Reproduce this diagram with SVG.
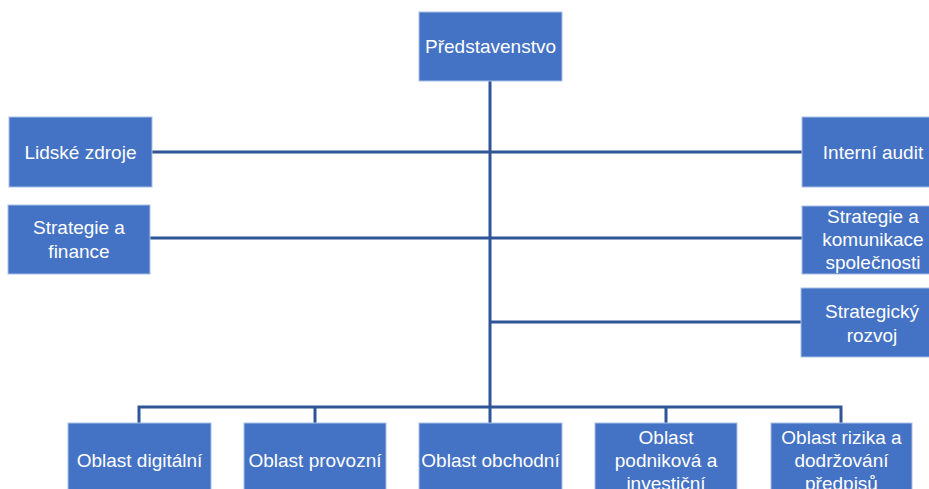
<svg xmlns="http://www.w3.org/2000/svg" width="929" height="489" viewBox="0 0 929 489">
<style>
.box{fill:#4472C4;stroke:#A9BFE6;stroke-width:1}
.t{font-family:"Liberation Sans",Arial,sans-serif;font-size:19px;fill:#FFFFFF;text-anchor:middle;dominant-baseline:central}
.c{stroke:#2F5597;stroke-width:3;fill:none}
</style>
<rect width="929" height="489" fill="#FFFFFF"/>
<g id="connectors">
<line class="c" x1="490" y1="81" x2="490" y2="407"/>
<line class="c" x1="152" y1="152" x2="802" y2="152"/>
<line class="c" x1="150" y1="238" x2="802" y2="238"/>
<line class="c" x1="490" y1="322" x2="801" y2="322"/>
<polyline class="c" points="139,423 139,407 841,407 841,423"/>
<line class="c" x1="315" y1="407" x2="315" y2="423"/>
<line class="c" x1="490" y1="407" x2="490" y2="423"/>
<line class="c" x1="666" y1="407" x2="666" y2="423"/>
</g>
<g id="n-predstavenstvo"><rect class="box" x="419" y="12" width="143" height="69"/><text class="t" x="490.5" y="46.5">Představenstvo</text></g>
<g id="n-lidske"><rect class="box" x="9" y="117" width="143" height="70"/><text class="t" x="80.5" y="152">Lidské zdroje</text></g>
<g id="n-strategie-finance"><rect class="box" x="8" y="205" width="142" height="69"/><text class="t" x="79" y="227">Strategie a</text><text class="t" x="79" y="251">finance</text></g>
<g id="n-audit"><rect class="box" x="802" y="117" width="142" height="70"/><text class="t" x="873" y="152">Interní audit</text></g>
<g id="n-strategie-komunikace"><rect class="box" x="802" y="206" width="142" height="68"/><text class="t" x="873" y="216">Strategie a</text><text class="t" x="873" y="239">komunikace</text><text class="t" x="873" y="262">společnosti</text></g>
<g id="n-rozvoj"><rect class="box" x="801" y="288" width="143" height="69"/><text class="t" x="872" y="311">Strategický</text><text class="t" x="872" y="335">rozvoj</text></g>
<g id="n-digitalni"><rect class="box" x="68" y="423" width="143" height="74"/><text class="t" x="139.5" y="460">Oblast digitální</text></g>
<g id="n-provozni"><rect class="box" x="244" y="423" width="142" height="74"/><text class="t" x="315" y="460">Oblast provozní</text></g>
<g id="n-obchodni"><rect class="box" x="419" y="423" width="143" height="74"/><text class="t" x="490.5" y="460">Oblast obchodní</text></g>
<g id="n-podnikova"><rect class="box" x="595" y="423" width="142" height="74"/><text class="t" x="666" y="437">Oblast</text><text class="t" x="666" y="460">podniková a</text><text class="t" x="666" y="483">investiční</text></g>
<g id="n-rizika"><rect class="box" x="771" y="423" width="141" height="74"/><text class="t" x="841.5" y="437">Oblast rizika a</text><text class="t" x="841.5" y="460">dodržování</text><text class="t" x="841.5" y="483">předpisů</text></g>
</svg>
